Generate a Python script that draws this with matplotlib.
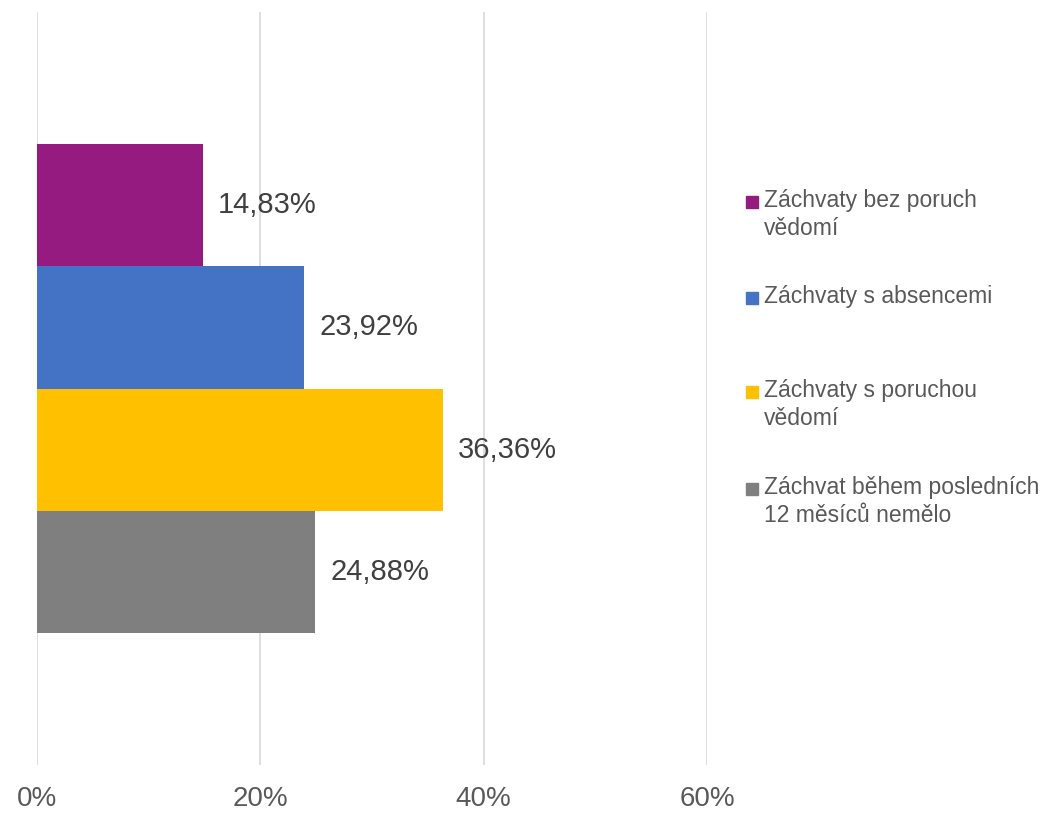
import matplotlib
matplotlib.use("Agg")
import matplotlib.pyplot as plt
from matplotlib.patches import Rectangle

categories = [
    "Záchvaty bez poruch\nvědomí",
    "Záchvaty s absencemi",
    "Záchvaty s poruchou\nvědomí",
    "Záchvat během posledních\n12 měsíců nemělo",
]
values = [14.83, 23.92, 36.36, 24.88]
colors = ["#951B81", "#4472C4", "#FFC000", "#7F7F7F"]
x_ticks = [0, 20, 40, 60]
x_tick_labels = ["0%", "20%", "40%", "60%"]

plt.rcParams["font.family"] = ["Liberation Sans", "DejaVu Sans"]

fig = plt.figure(figsize=(10.56, 8.16), dpi=100)
ax = fig.add_axes([37 / 1056, 1 - 765 / 816, (707 - 37) / 1056, (765 - 12) / 816])

pos = list(range(len(values)))
ax.barh(pos, values, height=1.0, color=colors, zorder=3)

for p, v in zip(pos, values):
    ax.annotate(f"{v:.2f}%".replace(".", ","), xy=(v, p), xytext=(11, 0),
                textcoords="offset points", va="center", ha="left",
                fontsize=21, color="#404040")

ax.set_xlim(0, 60)
ax.set_ylim(4.585, -1.585)
ax.set_xticks(x_ticks)
ax.set_xticklabels(x_tick_labels, fontsize=20, color="#595959")
ax.set_yticks([])
ax.tick_params(axis="x", length=0, pad=15)
ax.grid(axis="x", color="#D9D9D9", linewidth=1.2, zorder=0)
for s in ax.spines.values():
    s.set_visible(False)

# legend drawn by hand so the marker sits on the first line
legend_y = [202, 298, 392, 489]
for lab, col, yp in zip(categories, colors, legend_y):
    fig.patches.append(Rectangle((746 / 1056, 1 - (yp + 6) / 816), 12 / 1056, 12 / 816,
                                 transform=fig.transFigure, color=col))
    fig.text(764 / 1056, 1 - (yp - 13) / 816, lab, fontsize=16.5, color="#595959",
             va="top", ha="left", linespacing=1.3)

fig.savefig("out.png", dpi=100)
